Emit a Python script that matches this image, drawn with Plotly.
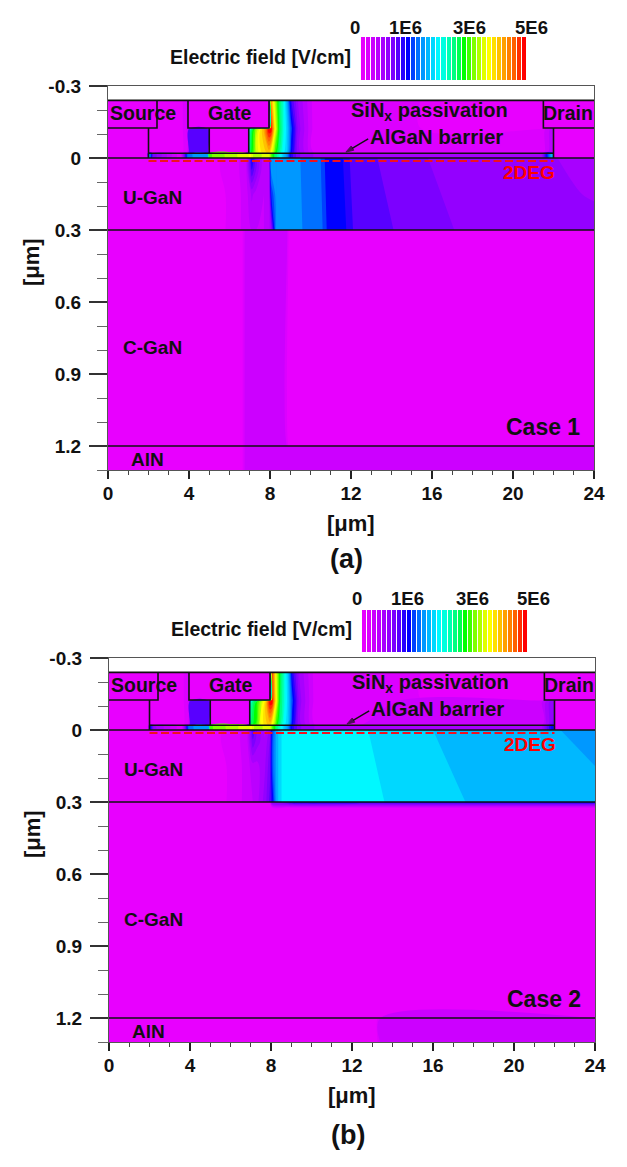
import plotly.graph_objects as go

W, H = 627, 1167
FONT = "Liberation Sans"

# =========================================================
# COLOUR BANDS OF THE FIELD SCALE
# =========================================================
BAND_COLORS = [
    "#E800FF", "#DC00FF", "#CC00FF", "#BB00FF", "#A800FF", "#9400FF", "#7C00FF",
    "#5800FF", "#2800FF", "#0000FF", "#0040FF", "#0070FF", "#0098FF", "#00B8FF",
    "#00D8FF", "#00F8FF", "#00FFE0", "#00FFB0", "#00FF80", "#00FF50", "#00FF00",
    "#40FF00", "#80FF00", "#B0FF00", "#E0FF00", "#FFFF00", "#FFE000", "#FFC000",
    "#FFA000", "#FF8000", "#FF6000", "#FF3000", "#FF0000",
]
BAND_STEP = 0.16  # 1E6 V/cm per band
SCALE_TICKS = ["0", "1E6", "3E6", "5E6"]

# =========================================================
# FIELD VALUES, 1E6 V/cm
# =========================================================
X_TOP = [0, 1.95, 2.0, 2.2, 3.6, 3.95, 4.0, 4.95, 5.0, 6.95, 7.0, 7.25, 7.5, 7.75, 7.95,
         8.05, 8.25, 8.45, 8.65, 8.85, 9.05, 9.4, 10.2, 21.4, 21.95, 22.0, 24]
Y_TOP = [-0.24, -0.125, -0.12, -0.022, -0.02, 0.0]
Z_TOP_1 = [
    [0, 0, 0, 0, 0, 0.3, 0, 0, 0, 0, 0, 0, 0, 0, 0, 4.5, 3.7, 3.0, 2.6, 2.0, 1.2, 0.7, 0.15, 0, 0, 0, 0],
    [0, 0, 0, 0, 0, 0.3, 0, 0, 0, 0, 0, 0, 0, 0, 0, 5.2, 4.0, 3.1, 2.6, 2.2, 1.6, 0.8, 0.15, 0, 0, 0, 0],
    [0, 0, 0, 0, 0, 0.3, 1.1, 1.1, 0, 0, 2.6, 3.4, 4.0, 4.5, 5.2, 5.2, 4.0, 3.1, 2.6, 2.2, 1.6, 0.8, 0.15, 0.1, 0.5, 0, 0],
    [0, 0, 0, 0, 0, 0.3, 1.1, 1.1, 0, 0, 3.0, 3.6, 4.0, 4.2, 4.3, 4.0, 3.3, 2.8, 2.4, 2.1, 1.4, 0.8, 0.2, 0.1, 0.6, 0, 0],
    [0, 0, 2.2, 1.0, 0.1, 1.8, 1.8, 2.0, 3.4, 3.9, 4.0, 3.6, 3.7, 3.9, 3.9, 3.5, 3.0, 2.6, 2.2, 1.9, 1.3, 0.9, 0.7, 0.6, 2.2, 0, 0],
    [0, 0, 2.2, 1.0, 0.1, 1.8, 1.8, 2.0, 3.4, 3.9, 4.0, 3.6, 3.7, 3.9, 3.9, 3.5, 3.0, 2.6, 2.2, 1.9, 1.3, 0.9, 0.7, 0.6, 2.2, 0, 0],
]
Z_TOP_2 = [
    [0, 0, 0, 0, 0, 0.3, 0, 0, 0, 0, 0, 0, 0, 0, 0, 5.0, 3.9, 3.1, 2.6, 2.1, 1.3, 0.7, 0.15, 0, 0, 0, 0],
    [0, 0, 0, 0, 0, 0.3, 0, 0, 0, 0, 0, 0, 0, 0, 0, 5.2, 4.0, 3.0, 2.6, 2.2, 1.6, 0.8, 0.15, 0, 0, 0, 0],
    [0, 0, 0, 0, 0, 0.3, 1.1, 1.1, 0, 0, 2.6, 3.1, 3.6, 4.2, 5.2, 5.2, 4.0, 3.0, 2.6, 2.2, 1.6, 0.8, 0.15, 0.4, 0.9, 0, 0],
    [0, 0, 0, 0, 0, 0.3, 1.1, 1.1, 0, 0, 3.0, 3.3, 3.9, 4.2, 4.3, 4.0, 3.3, 2.8, 2.4, 2.1, 1.4, 0.8, 0.2, 0.4, 1.0, 0, 0],
    [0, 0, 1.6, 0.8, 0.1, 1.8, 1.8, 2.0, 3.4, 3.9, 4.0, 3.6, 3.7, 3.9, 3.9, 3.5, 3.0, 2.6, 2.2, 1.9, 1.3, 0.9, 0.7, 0.7, 1.5, 0, 0],
    [0, 0, 1.6, 0.8, 0.1, 1.8, 1.8, 2.0, 3.4, 3.9, 4.0, 3.6, 3.7, 3.9, 3.9, 3.5, 3.0, 2.6, 2.2, 1.9, 1.3, 0.9, 0.7, 0.7, 1.5, 0, 0],
]

# U-GaN left of the field plate edge
X_UGAN = [0, 5.0, 6.0, 6.8, 7.1, 7.3, 7.7, 7.95, 8.05, 8.3]
Y_UGAN = [0.0, 0.05, 0.15, 0.3]
Z_UGAN_1 = [
    [0, 0, 0.15, 0.3, 1.4, 1.0, 0.4, 0.6, 2.0, 1.92],
    [0, 0, 0.15, 0.3, 1.2, 0.9, 0.4, 0.5, 1.9, 1.92],
    [0, 0, 0.1, 0.3, 0.6, 0.5, 0.4, 0.5, 1.5, 1.92],
    [0, 0, 0.1, 0.3, 0.4, 0.4, 0.4, 0.5, 0.7, 1.92],
]
Z_UGAN_2 = [
    [0, 0, 0.15, 0.3, 1.2, 0.9, 0.5, 0.8, 1.5, 2.1],
    [0, 0, 0.15, 0.3, 1.0, 0.8, 0.6, 0.9, 1.6, 2.1],
    [0, 0, 0.1, 0.3, 0.5, 0.5, 0.7, 1.0, 1.6, 2.1],
    [0, 0, 0.1, 0.3, 0.4, 0.5, 0.8, 1.1, 1.3, 2.1],
]

# U-GaN drift region, right of the field plate edge
Y_DRIFT = [0.0, 0.15, 0.3]
X_DRIFT_1 = [8.3, 9.5, 9.6, 10.5, 10.8, 11.6, 12.1, 13.3, 14.1, 15.8, 17.1, 22.2, 24]
Z_DRIFT_1 = [
    [1.92, 1.84, 1.76, 1.68, 1.44, 1.36, 1.12, 1.04, 0.96, 0.88, 0.8, 0.72, 0.64],
    [1.92, 1.88, 1.8, 1.72, 1.48, 1.4, 1.16, 1.08, 1.0, 0.92, 0.84, 0.76, 0.7],
    [1.92, 1.92, 1.84, 1.76, 1.52, 1.44, 1.2, 1.12, 1.04, 0.96, 0.88, 0.8, 0.8],
]
X_DRIFT_2 = [8.3, 8.6, 12.8, 13.6, 16, 17.6, 22.3, 24]
Z_DRIFT_2 = [
    [2.1, 2.4, 2.32, 2.24, 2.16, 2.08, 2.0, 1.92],
    [2.1, 2.4, 2.36, 2.28, 2.2, 2.12, 2.08, 2.0],
    [2.1, 2.4, 2.4, 2.32, 2.24, 2.16, 2.08, 2.08],
]

X_LOW = [0, 6.6, 6.75, 7.95, 8.05, 8.85, 8.95, 13.2, 13.4, 24]
Y_LOW = [0.3, 0.325, 1.199, 1.201, 1.3]
Z_LOW_1 = [
    [0, 0, 0.25, 0.25, 0.25, 0.25, 0, 0, 0, 0],
    [0, 0, 0.25, 0.25, 0.25, 0.25, 0, 0, 0, 0],
    [0, 0, 0.25, 0.25, 0.25, 0.25, 0, 0, 0, 0],
    [0, 0, 0.25, 0.25, 0.25, 0.25, 0.25, 0.25, 0.25, 0.25],
    [0, 0, 0.25, 0.25, 0.25, 0.25, 0.25, 0.25, 0.25, 0.25],
]
Z_LOW_2 = [
    [0, 0, 0, 0, 1.0, 1.3, 1.4, 1.4, 1.4, 1.5],
    [0, 0, 0, 0, 0, 0.05, 0.05, 0.05, 0.05, 0.05],
    [0, 0, 0, 0, 0, 0, 0, 0, 0, 0],
    [0, 0, 0, 0, 0, 0, 0, 0, 0.25, 0.25],
    [0, 0, 0, 0, 0, 0, 0, 0, 0.25, 0.25],
]

# =========================================================
# DEVICE OUTLINE AND AXES
# =========================================================
DEVICE_LINES = [
    ([0, 24], [-0.24, -0.24]),
    ([0, 24], [0, 0]),
    ([0, 24], [0.3, 0.3]),
    ([0, 24], [1.2, 1.2]),
    ([2, 22], [-0.02, -0.02]),
    ([0, 2.42, 2.42], [-0.125, -0.125, -0.24]),
    ([2, 2], [-0.125, 0]),
    ([3.95, 3.95, 7.95, 7.95], [-0.24, -0.125, -0.125, -0.24]),
    ([5, 5], [-0.125, -0.02]),
    ([6.95, 6.95], [-0.125, -0.02]),
    ([21.5, 21.5, 24], [-0.24, -0.125, -0.125]),
    ([22, 22], [-0.125, 0]),
]
CHANNEL_X = [2, 22]
CHANNEL_Y = [0.012, 0.012]
POINTER_X = [12.85, 11.75]
POINTER_Y = [-0.08, -0.025]

X_TICKS = [0, 4, 8, 12, 16, 20, 24]
Y_TICKS = [-0.3, 0, 0.3, 0.6, 0.9, 1.2]
Y_TICK_TEXT = ["-0.3", "0", "0.3", "0.6", "0.9", "1.2"]

LABELS = [
    ("Source", 1.72, -0.187, 19.5, "#111111"),
    ("Gate", 6.0, -0.187, 19.5, "#111111"),
    ("Drain", 22.72, -0.187, 19.5, "#111111"),
    ("SiN<sub>x</sub> passivation", 15.9, -0.195, 20, "#111111"),
    ("AlGaN barrier", 16.2, -0.09, 20.5, "#111111"),
    ("2DEG", 20.8, 0.062, 19, "#FF0000"),
    ("U-GaN", 2.2, 0.165, 19, "#111111"),
    ("C-GaN", 2.2, 0.79, 19, "#111111"),
    ("AlN", 1.95, 1.255, 19, "#111111"),
]

# pixel boxes of the two panels
PANELS = [
    dict(name="", box=(108, 594, 86, 470), bar=(361, 527, 37, 80), case="Case 1", tag="(a)",
         scale_x=[355, 405, 469, 531], scale_y=27, field_title=(260, 57), xtitle=(351, 523),
         ytitle=(31, 262), tag_xy=(346, 559), top=Z_TOP_1, ugan=Z_UGAN_1, low=Z_LOW_1,
         drift_x=X_DRIFT_1, drift=Z_DRIFT_1),
    dict(name="2", box=(109, 595, 658, 1042), bar=(362, 528, 610, 652), case="Case 2", tag="(b)",
         scale_x=[357, 407, 472, 533], scale_y=598, field_title=(261, 629), xtitle=(352, 1095),
         ytitle=(32, 834), tag_xy=(348, 1135), top=Z_TOP_2, ugan=Z_UGAN_2, low=Z_LOW_2,
         drift_x=X_DRIFT_2, drift=Z_DRIFT_2),
]


def px(x):
    return x / W


def py(y):
    return 1 - y / H


COLORSCALE = [[i / (len(BAND_COLORS) - 1), c] for i, c in enumerate(BAND_COLORS)]
LEVELS = dict(start=BAND_STEP / 2, end=BAND_STEP / 2 + BAND_STEP * (len(BAND_COLORS) - 2),
              size=BAND_STEP, coloring="fill", showlines=False)

fig = go.Figure()
annotations = []
layout = {}


def text_at(text, x, y, size, color="#111111", angle=0):
    annotations.append(dict(text=f"<b>{text}</b>", x=px(x), y=py(y), xref="paper", yref="paper",
                            showarrow=False, textangle=angle, xanchor="center", yanchor="middle",
                            font=dict(family=FONT, size=size, color=color)))


for i, p in enumerate(PANELS):
    xa, ya = f"x{p['name']}", f"y{p['name']}"
    x0, x1, y0, y1 = p["box"]

    regions = [
        (X_TOP, Y_TOP, p["top"]),
        (X_UGAN, Y_UGAN, p["ugan"]),
        (p["drift_x"], Y_DRIFT, p["drift"]),
        (X_LOW, Y_LOW, p["low"]),
    ]
    for xs, ys, zs in regions:
        fig.add_trace(go.Contour(x=xs, y=ys, z=zs, colorscale=COLORSCALE, contours=LEVELS,
                                 line=dict(width=0), showscale=False, hoverinfo="skip",
                                 xaxis=xa, yaxis=ya))

    for xs, ys in DEVICE_LINES:
        fig.add_trace(go.Scatter(x=xs, y=ys, mode="lines", line=dict(color="#111111", width=1.6),
                                 showlegend=False, hoverinfo="skip", xaxis=xa, yaxis=ya))
    fig.add_trace(go.Scatter(x=CHANNEL_X, y=CHANNEL_Y, mode="lines",
                             line=dict(color="#F01020", width=2, dash="8px,3.5px"),
                             showlegend=False, hoverinfo="skip", xaxis=xa, yaxis=ya))
    fig.add_trace(go.Scatter(x=POINTER_X, y=POINTER_Y, mode="lines+markers",
                             line=dict(color="#111111", width=1.4),
                             marker=dict(symbol="arrow", angleref="previous", size=[0, 8], color="#111111",
                                         line=dict(width=1, color="#111111")),
                             showlegend=False, hoverinfo="skip", xaxis=xa, yaxis=ya))

    layout[f"xaxis{p['name']}"] = dict(
        domain=[px(x0), px(x1)], range=[0, 24], anchor=ya, tickmode="array", tickvals=X_TICKS,
        ticktext=[f"<b>{t}</b>" for t in X_TICKS], automargin=False, ticklabelstandoff=-2,
        ticks="outside", ticklen=8, tickwidth=1.5, tickcolor="#222222", showgrid=False, zeroline=False,
        showline=True, linecolor="#555555", linewidth=1.2, mirror=True,
        tickfont=dict(family=FONT, size=19, color="#111111"),
        minor=dict(dtick=1, tick0=0, ticks="outside", ticklen=4, tickwidth=1, tickcolor="#444444", showgrid=False),
    )
    layout[f"yaxis{p['name']}"] = dict(
        domain=[py(y1), py(y0)], range=[1.3, -0.3], anchor=xa, tickmode="array", tickvals=Y_TICKS,
        ticktext=[f"<b>{t}</b>" for t in Y_TICK_TEXT], automargin=False,
        ticks="outside", ticklen=18, tickwidth=1.5, tickcolor="#333333", showgrid=False, zeroline=False,
        showline=True, linecolor="#555555", linewidth=1.2, mirror=True, ticklabelstandoff=4,
        tickfont=dict(family=FONT, size=19, color="#111111"),
        minor=dict(dtick=0.1, tick0=-0.3, ticks="outside", ticklen=10, tickwidth=1, tickcolor="#666666", showgrid=False),
    )

    # stepped scale bar above the panel
    bx = f"x{3 + i}"
    by = f"y{3 + i}"
    fig.add_trace(go.Heatmap(z=[list(range(len(BAND_COLORS)))], colorscale=COLORSCALE, showscale=False,
                             xgap=1, hoverinfo="skip", xaxis=bx, yaxis=by))
    layout[f"xaxis{3 + i}"] = dict(domain=[px(p["bar"][0]), px(p["bar"][1])], showticklabels=False,
                                   showgrid=False, zeroline=False, ticks="", automargin=False,
                                   range=[-0.5, len(BAND_COLORS) - 0.5], anchor=by)
    layout[f"yaxis{3 + i}"] = dict(domain=[py(p["bar"][3]), py(p["bar"][2])], showticklabels=False,
                                   showgrid=False, zeroline=False, ticks="", automargin=False,
                                   range=[-0.5, 0.5], anchor=bx)

    for t, sx in zip(SCALE_TICKS, p["scale_x"]):
        text_at(t, sx, p["scale_y"], 18.5)
    text_at("Electric field [V/cm]", p["field_title"][0], p["field_title"][1], 19.5)
    text_at("[μm]", p["xtitle"][0], p["xtitle"][1], 22)
    text_at("[μm]", p["ytitle"][0], p["ytitle"][1], 22, angle=-90)
    text_at(p["tag"], p["tag_xy"][0], p["tag_xy"][1], 27)

    for text, lx, ly, size, color in LABELS:
        annotations.append(dict(text=f"<b>{text}</b>", x=lx, y=ly, xref=xa, yref=ya, showarrow=False,
                                xanchor="center", yanchor="middle",
                                font=dict(family=FONT, size=size, color=color)))
    annotations.append(dict(text=f"<b>{p['case']}</b>", x=21.5, y=1.12, xref=xa, yref=ya, showarrow=False,
                            font=dict(family=FONT, size=23, color="#111111")))

fig.update_layout(
    width=W, height=H, margin=dict(l=0, r=0, t=0, b=0), autosize=False,
    paper_bgcolor="white", plot_bgcolor="white", showlegend=False,
    annotations=annotations, **layout,
)
fig.write_html("out.html", post_script="document.body.style.margin='0';",
               config=dict(displayModeBar=False))
